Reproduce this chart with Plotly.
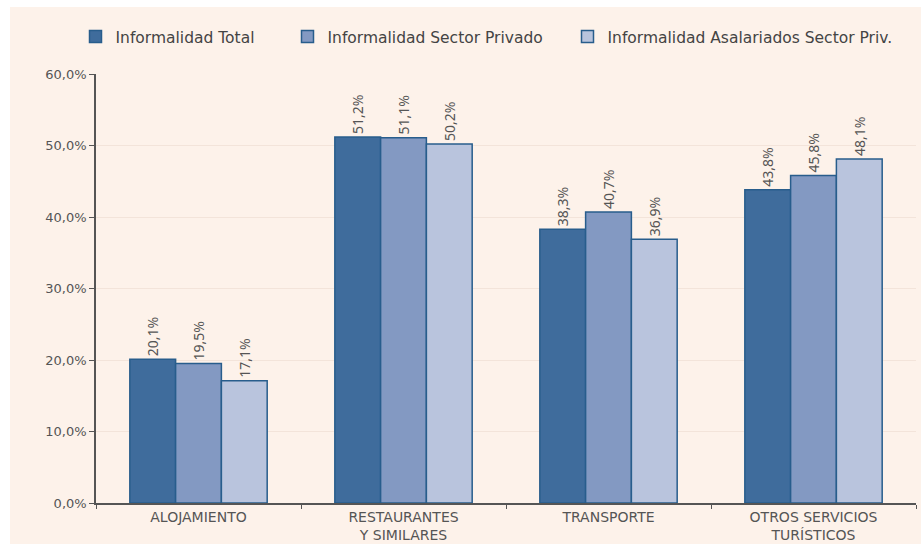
import plotly.graph_objects as go

categories = ["ALOJAMIENTO", "RESTAURANTES<br>Y SIMILARES", "TRANSPORTE", "OTROS SERVICIOS<br>TURÍSTICOS"]
series_names = ["Informalidad Total", "Informalidad Sector Privado", "Informalidad Asalariados Sector Priv."]
total = [20.1, 51.2, 38.3, 43.8]
privado = [19.5, 51.1, 40.7, 45.8]
asalariados = [17.1, 50.2, 36.9, 48.1]
tick_vals = [0, 10, 20, 30, 40, 50, 60]
tick_text = ["0,0%", "10,0%", "20,0%", "30,0%", "40,0%", "50,0%", "60,0%"]

colors = ["#3f6c9c", "#8399c2", "#b9c4dd"]
edge = "#285d8c"
text_color = "#555555"
bg = "#fdf2ea"

def fmt(v):
    return f"{v:.1f}".replace(".", ",") + "%"

W, H = 921, 544
ml, mr, mt, mb = 96, 5, 74, 41
pw, ph = W - ml - mr, H - mt - mb

legend_names = ["legend", "legend2", "legend3"]
legend_px = [75.5, 287.5, 567.5]

fig = go.Figure()
for name, vals, col, lg in zip(series_names, [total, privado, asalariados], colors, legend_names):
    fig.add_trace(go.Bar(
        x=categories, y=vals, name=name, legend=lg,
        marker=dict(color=col, line=dict(color=edge, width=1.5)),
        text=[fmt(v) for v in vals], textposition="outside", textangle=-90,
        textfont=dict(family="Noto Sans", size=14, color=text_color),
        cliponaxis=False,
    ))

fig.add_shape(type="rect", xref="paper", yref="paper", layer="below",
              x0=(10 - ml) / pw, x1=(W - ml) / pw,
              y0=(H - mb - H) / ph, y1=(H - mb - 7) / ph,
              fillcolor=bg, line=dict(width=0))

legend_common = dict(orientation="h", yref="container", y=1 - 37 / H, xanchor="left", yanchor="middle",
                     font=dict(family="DejaVu Sans", size=15.5, color="#444444"),
                     bgcolor="rgba(0,0,0,0)", itemwidth=30)

fig.update_layout(
    width=W, height=H,
    margin=dict(l=ml, r=mr, t=mt, b=mb, autoexpand=False),
    paper_bgcolor="white", plot_bgcolor="rgba(0,0,0,0)",
    barmode="group", bargap=0.33, bargroupgap=0,
    font=dict(family="DejaVu Sans", color=text_color),
    legend=dict(x=(legend_px[0] - ml) / pw, **legend_common),
    legend2=dict(x=(legend_px[1] - ml) / pw, **legend_common),
    legend3=dict(x=(legend_px[2] - ml) / pw, **legend_common),
    showlegend=True,
)
fig.update_yaxes(range=[0, 60], tickvals=tick_vals, ticktext=tick_text,
                 showline=True, linecolor="#555555", linewidth=1.5,
                 ticks="outside", ticklen=5, tickcolor="#555555",
                 showgrid=True, gridcolor="#f3e4da", gridwidth=1,
                 zeroline=False,
                 tickfont=dict(family="DejaVu Sans", size=13, color=text_color))
fig.update_xaxes(showline=True, linecolor="#555555", linewidth=1.5,
                 ticks="outside", tickson="boundaries", ticklen=4, tickcolor="#555555",
                 tickfont=dict(family="DejaVu Sans", size=14, color=text_color))

fig.write_html("out.html")
